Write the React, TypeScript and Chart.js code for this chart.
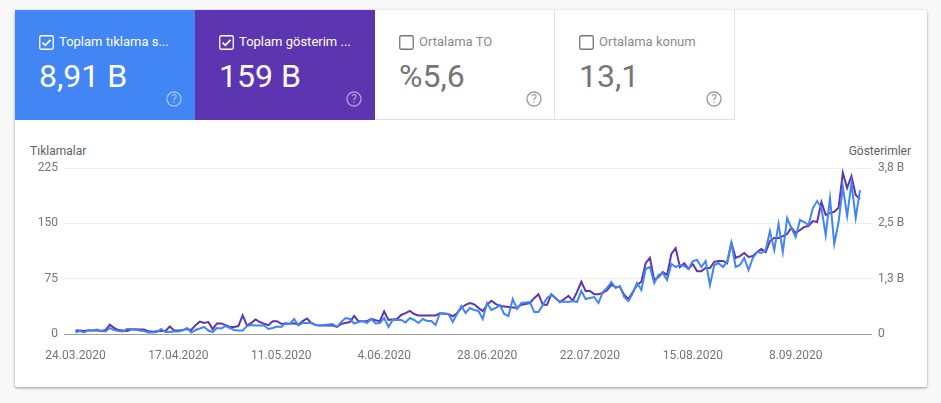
import React, { useEffect, useRef } from "react";
import { Chart, registerables } from "chart.js";

Chart.register(...registerables);

const xTickLabels = ["24.03.2020", "17.04.2020", "11.05.2020", "4.06.2020", "28.06.2020", "22.07.2020", "15.08.2020", "8.09.2020"];
const rightTickLabels = ["0", "1,3 B", "2,5 B", "3,8 B"];

const clicks = [
  2, 4, 2, 5.4, 4.7, 6.1, 4, 3.4, 8.1, 5.4,
  4, 3.4, 6.8, 6.8, 6.1, 4.7, 4, 2, 2, 2.7,
  6.8, 2.7, 2.7, 3.4, 3.4, 4.7, 8.1, 2, 5.4, 7.5,
  9.5, 4.7, 2.7, 8.1, 7.5, 10.8, 8.1, 5.4, 4.7, 4.7,
  10.8, 12.2, 11.5, 11.5, 11.5, 6.8, 8.1, 10.2, 9.5, 14.9,
  13.6, 20.3, 11.5, 14.9, 14.9, 14.9, 12.2, 11.5, 12.2, 12.9,
  13.6, 9.5, 16.3, 21.7, 20.3, 14.2, 16.3, 17.6, 14.9, 20.3,
  14.2, 14.9, 21.7, 9.5, 19, 19, 19, 15.6, 21.7, 19,
  14.9, 20.3, 17.6, 17.6, 12.2, 28.5, 27.8, 27.1, 16.3, 27.1,
  37.9, 28.5, 35.2, 32.5, 31.2, 20.3, 42, 32.5, 35.2, 39.3,
  27.1, 24.4, 47.4, 33.9, 42, 42.7, 43.4, 29.8, 29.8, 39.3,
  48.8, 52.8, 48.8, 43.4, 44, 43.4, 44.7, 43.4, 58.3, 47.4,
  48.8, 50.1, 42, 56.9, 62.3, 70.5, 62.3, 65, 50.1, 44.7,
  55.6, 69.1, 59.6, 88.1, 90.8, 69.1, 79.9, 82.7, 73.2, 94.9,
  90.8, 93.5, 92.1, 88.1, 98.9, 100.3, 90.8, 98.9, 66.4, 93.5,
  96.2, 90.8, 97.6, 123.3, 90.8, 93.5, 103, 86.7, 103, 111.1,
  109.8, 113.8, 139.6, 113.8, 149.1, 111.1, 157.2, 143.6, 131.4, 154.5,
  151.8, 147.7, 170.7, 180.2, 170.7, 134.1, 184.3, 122, 151.8, 199.2, 159.9, 204.6, 157.2, 195.1,
];

const impressions = [
  0.08, 0.08, 0.07, 0.08, 0.08, 0.08, 0.07, 0.09, 0.21, 0.14,
  0.09, 0.08, 0.07, 0.1, 0.11, 0.1, 0.1, 0.06, 0.05, 0.06,
  0.07, 0.07, 0.17, 0.08, 0.08, 0.09, 0.11, 0.09, 0.2, 0.28,
  0.25, 0.27, 0.11, 0.24, 0.24, 0.2, 0.16, 0.16, 0.18, 0.42,
  0.19, 0.25, 0.33, 0.27, 0.23, 0.2, 0.29, 0.29, 0.23, 0.23,
  0.23, 0.24, 0.21, 0.29, 0.35, 0.25, 0.2, 0.19, 0.19, 0.2,
  0.19, 0.16, 0.23, 0.25, 0.27, 0.41, 0.29, 0.29, 0.29, 0.34,
  0.31, 0.29, 0.51, 0.32, 0.33, 0.34, 0.43, 0.47, 0.52, 0.45,
  0.42, 0.42, 0.42, 0.42, 0.42, 0.47, 0.46, 0.45, 0.4, 0.47,
  0.59, 0.66, 0.7, 0.67, 0.59, 0.52, 0.66, 0.75, 0.68, 0.63,
  0.62, 0.61, 0.6, 0.59, 0.66, 0.68, 0.7, 0.81, 0.9, 0.66,
  0.66, 0.9, 0.81, 0.72, 0.79, 0.86, 0.75, 0.95, 1.18, 0.97,
  0.97, 0.9, 0.9, 0.93, 0.99, 1.11, 1.06, 1.06, 0.88, 0.79,
  0.95, 1.11, 1.18, 1.6, 1.72, 1.22, 1.29, 1.4, 1.33, 1.81,
  1.94, 1.51, 1.6, 1.47, 1.58, 1.42, 1.42, 1.49, 1.49, 1.63,
  1.65, 1.65, 1.6, 2.06, 1.72, 1.76, 1.83, 1.74, 1.76, 1.85,
  1.92, 1.85, 2.1, 2.17, 2.17, 2.21, 2.26, 2.4, 2.28, 2.35,
  2.42, 2.44, 2.55, 2.53, 2.98, 2.69, 2.73, 2.76, 2.85, 3.64, 3.3, 3.57, 3.14, 3.05,
];

const FONT = "Roboto, sans-serif";

type TileProps = { left: number; label: string; value: string; bg?: string };

function Tile({ left, label, value, bg }: TileProps) {
  const on = !!bg;
  const textColor = on ? "#fff" : "#757575";
  return (
    <div
      style={{
        position: "absolute", left, top: 10, width: 180, height: 110, boxSizing: "border-box",
        background: bg || "#fff", borderRight: on ? "none" : "1px solid #e0e0e0", borderBottom: on ? "none" : "1px solid #e0e0e0",
        fontFamily: FONT,
      }}
    >
      <svg width="15" height="15" style={{ position: "absolute", left: 24, top: 24.5 }}>
        <rect x="0.75" y="0.75" width="13.5" height="13.5" rx="1.5" fill="none" stroke={on ? "#fff" : "#757575"} strokeWidth="1.3" />
        {on && <path d="M3.5 7.6 L6.3 10.3 L11.5 4.8" fill="none" stroke="#fff" strokeWidth="1.8" />}
      </svg>
      <div style={{ position: "absolute", left: 44, top: 23, fontSize: 13, lineHeight: "18px", fontWeight: 400, color: on ? "#fff" : "#8a8a8a", whiteSpace: "nowrap" }}>
        {label}
      </div>
      <div style={{ position: "absolute", left: 24, top: 46, fontSize: 32, lineHeight: "40px", fontWeight: 400, color: textColor, whiteSpace: "nowrap" }}>{value}</div>
      <svg width="16" height="16" style={{ position: "absolute", left: 150.5, top: 81 }}>
        <circle cx="8" cy="8" r="7" fill="none" stroke={on ? "rgba(255,255,255,0.5)" : "#9e9e9e"} strokeWidth="1.4" />
        <text x="8" y="12.3" textAnchor="middle" fontSize="12" fontFamily={FONT} fill={on ? "rgba(255,255,255,0.55)" : "#9e9e9e"}>?</text>
      </svg>
    </div>
  );
}

export default function App() {
  const ref = useRef<HTMLCanvasElement | null>(null);

  useEffect(() => {
    if (!ref.current) return;
    const tick = { color: "#757575", font: { family: FONT, size: 12 } };
    const chart = new Chart(ref.current, {
      type: "line",
      data: {
        datasets: [
          {
            label: "Tıklamalar",
            data: clicks.map((y, x) => ({ x, y })),
            yAxisID: "y",
            borderColor: "#4285f4",
            borderWidth: 2,
            pointRadius: 0,
            tension: 0,
          },
          {
            label: "Gösterimler",
            data: impressions.map((y, x) => ({ x, y })),
            yAxisID: "y1",
            borderColor: "#5e35b1",
            borderWidth: 2,
            pointRadius: 0,
            tension: 0,
          },
        ],
      },
      options: {
        responsive: false,
        animation: false,
        layout: { padding: { top: 168, left: 0, right: 0, bottom: 0 } },
        plugins: { legend: { display: false }, tooltip: { enabled: false } },
        scales: {
          x: {
            type: "linear",
            min: -2.68,
            max: 185.8,
            grid: { display: false, drawTicks: false },
            border: { display: false },
            afterBuildTicks: (s: any) => {
              s.ticks = xTickLabels.map((_, k) => ({ value: k * 24 }));
            },
            ticks: {
              ...tick,
              autoSkip: false,
              maxRotation: 0,
              padding: 15,
              callback: (_v: any, i: number) => xTickLabels[i],
            },
            afterFit: (s: any) => {
              s.height = 69;
            },
          },
          y: {
            position: "left",
            min: 0,
            max: 225,
            grid: {
              drawTicks: false,
              color: (c: any) => (c.tick.value === 0 ? "#9e9e9e" : "#eeeeee"),
            },
            border: { display: false },
            ticks: { ...tick, stepSize: 75, padding: 6 },
            afterFit: (s: any) => {
              s.width = 64;
            },
          },
          y1: {
            position: "right",
            min: 0,
            max: 3.75,
            grid: { display: false, drawTicks: false },
            border: { display: false },
            ticks: {
              ...tick,
              stepSize: 1.25,
              padding: 6,
              callback: (_v: any, i: number) => rightTickLabels[i],
            },
            afterFit: (s: any) => {
              s.width = 69;
            },
          },
        },
      },
    } as any);
    return () => chart.destroy();
  }, []);

  return (
    <div style={{ position: "fixed", left: 0, top: 0, width: 941, height: 403, background: "#f8f8f8", overflow: "hidden" }}>
      <div style={{ position: "absolute", left: 15, top: 10, width: 912, height: 377, background: "#fff", boxShadow: "0 1px 3px rgba(0,0,0,0.4)", borderRadius: 2 }} />
      <Tile left={15} label="Toplam tıklama s..." value="8,91 B" bg="#4285f4" />
      <Tile left={195} label="Toplam gösterim ..." value="159 B" bg="#5e35b1" />
      <Tile left={375} label="Ortalama TO" value="%5,6" />
      <Tile left={555} label="Ortalama konum" value="13,1" />
      <div style={{ position: "absolute", left: 30, top: 144, fontFamily: FONT, fontSize: 12, lineHeight: "14px", color: "#616161" }}>Tıklamalar</div>
      <div style={{ position: "absolute", right: 30, top: 144, fontFamily: FONT, fontSize: 12, lineHeight: "14px", color: "#616161" }}>Gösterimler</div>
      <canvas ref={ref} width={941} height={403} style={{ position: "absolute", left: 0, top: 0, display: "block" }} />
    </div>
  );
}
